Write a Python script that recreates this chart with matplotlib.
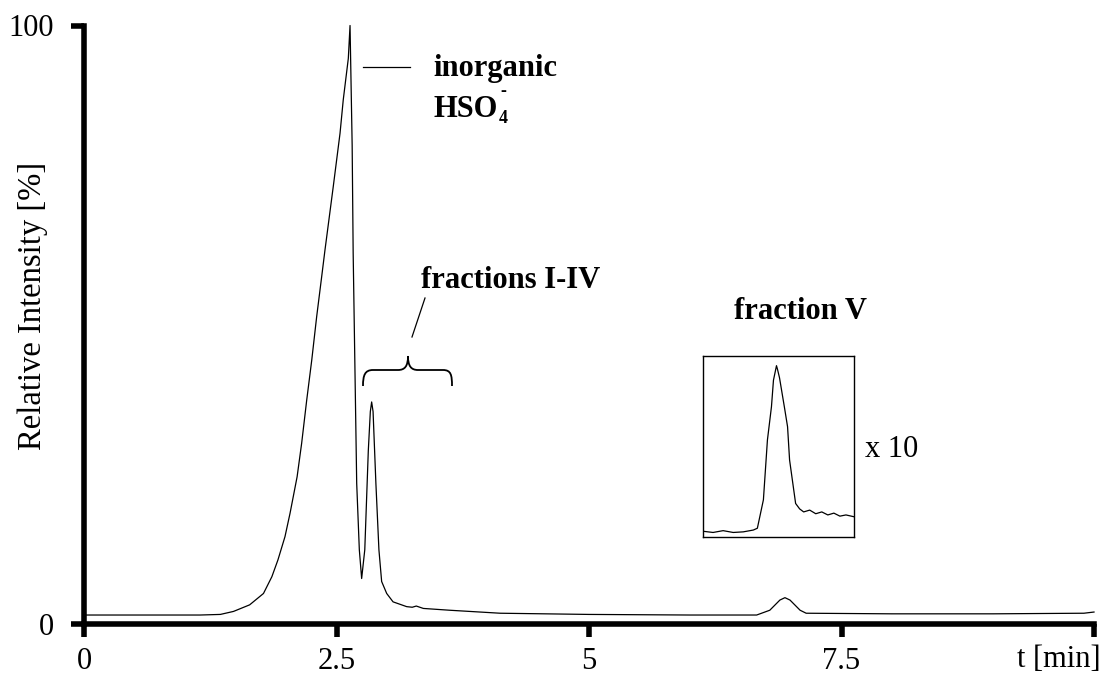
import matplotlib
matplotlib.use("Agg")
import matplotlib.pyplot as plt
from matplotlib.path import Path
from matplotlib.patches import PathPatch
from matplotlib.lines import Line2D

plt.rcParams['font.family'] = ['Liberation Serif', 'DejaVu Serif']

# Chromatogram trace: retention time [min] and relative intensity [%]
t_main = [0.00, 0.40, 0.80, 1.15, 1.35, 1.48, 1.64, 1.777, 1.86, 1.92, 1.99,
          2.04, 2.11, 2.155, 2.205, 2.255, 2.304, 2.353, 2.386, 2.468, 2.535,
          2.567, 2.617, 2.634, 2.655, 2.665, 2.700, 2.726, 2.749, 2.780,
          2.815, 2.835, 2.848, 2.862, 2.890, 2.920, 2.947, 2.997, 3.060,
          3.195, 3.250, 3.290, 3.360, 3.620, 4.120, 5.000, 6.000, 6.660,
          6.790, 6.890, 6.940, 6.990, 7.090, 7.150, 8.000, 9.000, 9.900, 10.00]
v_main = [1.5, 1.5, 1.5, 1.5, 1.6, 2.1, 3.2, 5.1, 7.9, 10.7, 14.6,
          18.5, 24.6, 30.2, 37.4, 44.1, 51.4, 58.0, 62.5, 73.1, 82.0,
          87.6, 94.5, 100.0, 80.0, 62.0, 23.5, 12.4, 7.6, 12.4,
          29.0, 35.5, 37.1, 35.5, 23.5, 12.4, 7.1, 5.1, 3.7,
          2.9, 2.8, 3.0, 2.6, 2.3, 1.8, 1.6, 1.5, 1.5,
          2.3, 4.0, 4.4, 4.0, 2.3, 1.8, 1.7, 1.7, 1.8, 2.0]

# Fraction V, intensity scaled x10
t_inset = [6.55, 6.60, 6.65, 6.70, 6.75, 6.80, 6.82, 6.85, 6.87, 6.89, 6.90,
           6.915, 6.92, 6.93, 6.94, 6.955, 6.97, 6.98, 7.01, 7.03, 7.05, 7.08,
           7.11, 7.14, 7.17, 7.20, 7.23, 7.26, 7.30]
v_inset = [17.1, 16.9, 17.2, 16.9, 17.0, 17.3, 17.6, 22.3, 32.2, 37.7, 42.1,
           44.5, 43.9, 42.5, 40.5, 37.5, 34.4, 28.9, 21.7, 20.8, 20.3, 20.6,
           20.0, 20.3, 19.8, 20.1, 19.6, 19.8, 19.5]

x_ticks = [0, 2.5, 5, 7.5, 10]
x_tick_labels = ['0', '2.5', '5', '7.5', '']
y_ticks = [0, 100]
y_tick_labels = ['0', '100']

W, H = 1105, 675
fig = plt.figure(figsize=(W / 100, H / 100), dpi=100)


def fx(px):
    return px / W


def fy(py):
    return 1 - py / H


ax = fig.add_axes([fx(84), fy(624), fx(1094) - fx(84), fy(25.5) - fy(624)])
ax.plot(t_main, v_main, color='black', lw=0.9, clip_on=False)
ax.set_xlim(0, 10)
ax.set_ylim(0, 100)
for s in ['top', 'right']:
    ax.spines[s].set_visible(False)
for s in ['left', 'bottom']:
    ax.spines[s].set_linewidth(4)
ax.set_xticks(x_ticks)
ax.set_xticklabels(x_tick_labels)
ax.set_yticks(y_ticks)
ax.set_yticklabels(y_tick_labels)
ax.tick_params(axis='both', width=4, length=9.5, labelsize=22, color='black')
ax.tick_params(axis='x', pad=7)
ax.tick_params(axis='y', pad=12)

fig.text(fx(33), fy(306), 'Relative Intensity [%]', rotation=90,
         fontsize=23.5, ha='center', va='center')
fig.text(fx(1017), fy(667), 't [min]', fontsize=22, ha='left', va='baseline')

# Peak labels
fig.text(fx(433), fy(76), 'inorganic', fontsize=22, fontweight='bold',
         ha='left', va='baseline')
hso = fig.text(fx(433), fy(117), 'HSO', fontsize=22, fontweight='bold',
               ha='left', va='baseline')
fig.canvas.draw()
x_end = hso.get_window_extent().x1 / W
fig.text(x_end + fx(1), fy(123), '4', fontsize=13, fontweight='bold',
         ha='left', va='baseline')
fig.text(x_end + fx(3), fy(96), '-', fontsize=13, fontweight='bold',
         ha='left', va='baseline')
fig.add_artist(Line2D([fx(363), fx(410)], [fy(67), fy(67)],
                      lw=0.9, color='black'))

fig.text(fx(421), fy(288), 'fractions I-IV', fontsize=22, fontweight='bold',
         ha='left', va='baseline')
fig.add_artist(Line2D([fx(412), fx(425)], [fy(337), fy(298)],
                      lw=0.9, color='black'))

brace_px = [(363, 386), (363, 375), (365, 370), (373, 370),
            (398, 370),
            (405, 370), (408, 366), (408, 356),
            (408, 366), (411, 370), (418, 370),
            (443, 370),
            (451, 370), (452, 375), (452, 386)]
codes = [Path.MOVETO, Path.CURVE4, Path.CURVE4, Path.CURVE4,
         Path.LINETO,
         Path.CURVE4, Path.CURVE4, Path.CURVE4,
         Path.CURVE4, Path.CURVE4, Path.CURVE4,
         Path.LINETO,
         Path.CURVE4, Path.CURVE4, Path.CURVE4]
brace = Path([(fx(x), fy(y)) for x, y in brace_px], codes)
fig.add_artist(PathPatch(brace, fill=False, lw=1.3, edgecolor='black',
                         transform=fig.transFigure))

fig.text(fx(801), fy(319), 'fraction V', fontsize=22, fontweight='bold',
         ha='center', va='baseline')
fig.text(fx(865), fy(457), 'x 10', fontsize=22, ha='left', va='baseline')

# Magnified view of fraction V
axi = fig.add_axes([fx(703), fy(537.3), fx(854) - fx(703), fy(356) - fy(537.3)])
axi.plot(t_inset, v_inset, color='black', lw=0.9)
axi.set_xlim(6.55, 7.30)
axi.set_ylim(16.1, 46.1)
axi.set_xticks([])
axi.set_yticks([])
for s in axi.spines.values():
    s.set_linewidth(1.0)

fig.savefig('out.png', dpi=100)
